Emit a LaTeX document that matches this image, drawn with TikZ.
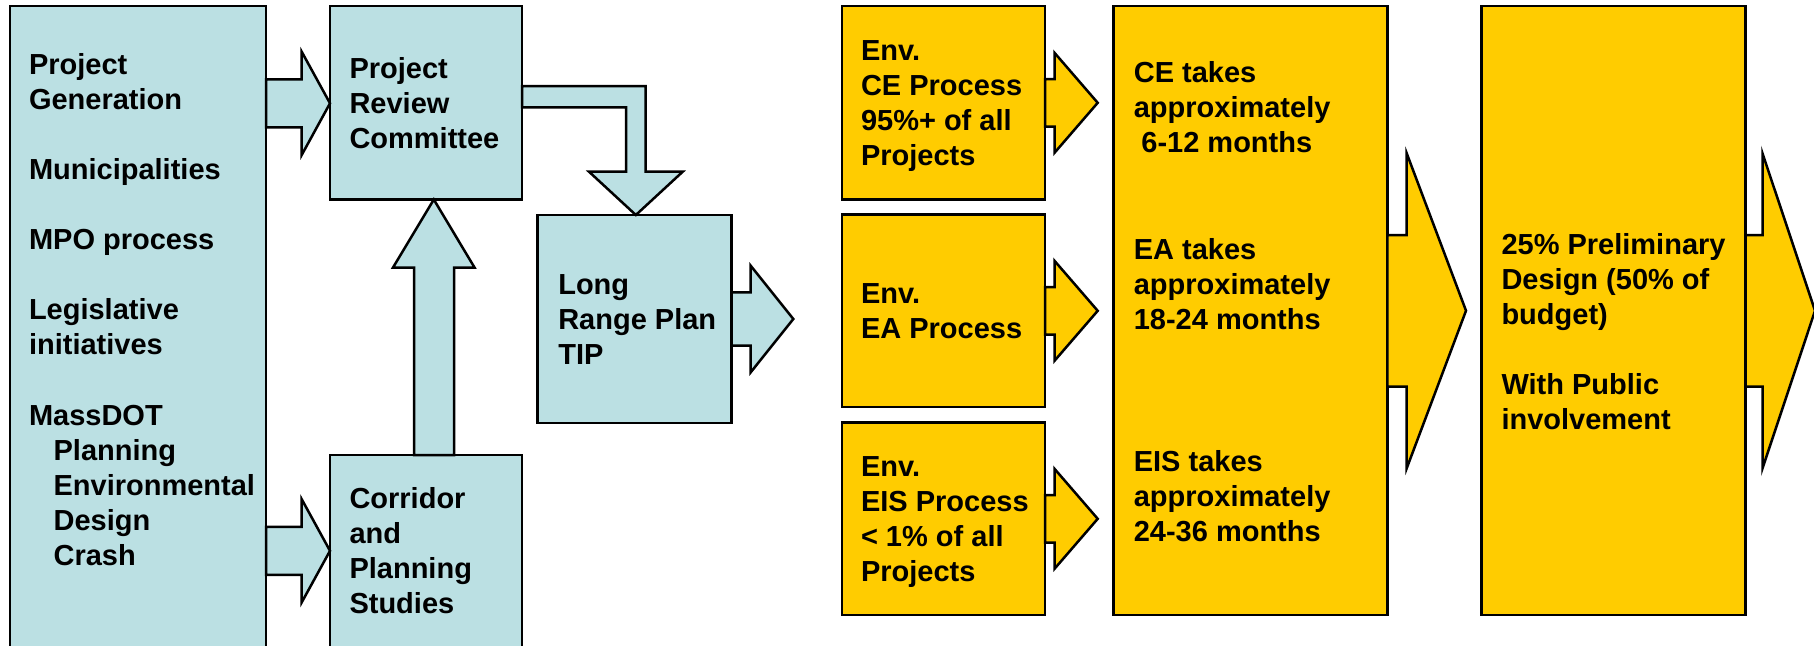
\documentclass[tikz,border=0pt]{standalone}
\usepackage{fontspec}
\setmainfont{Liberation Sans}
\definecolor{lblue}{RGB}{187,224,227}
\definecolor{gold}{RGB}{255,204,0}
\newcommand\bxfont{\fontsize{29}{35.1}\selectfont\bfseries}
\newcommand\bxtext[1]{\parbox[t]{330pt}{\bxfont\raggedright #1}}
\tikzset{
  box/.style={draw=black, line width=2.5pt, rectangle, inner sep=0pt, outer sep=0pt, anchor=north west},
  bluebox/.style={box, fill=lblue},
  goldbox/.style={box, fill=gold},
  txt/.style={anchor=base west, inner sep=0pt, outer sep=0pt},
  bluearrow/.style={draw=black, line width=2.5pt, fill=lblue, line join=miter},
  goldarrow/.style={draw=black, line width=2.5pt, fill=gold, line join=miter},
}
\begin{document}
\begin{tikzpicture}[x=1pt,y=-1pt]
\clip (0,0) rectangle (1814,645);
\fill[white] (0,0) rectangle (1814,645);

% boxes
\node[bluebox, minimum width=256pt, minimum height=670pt] (gen) at (10,6.2) {};
\node[bluebox, minimum width=192pt, minimum height=193.3pt] (prc) at (330,6.2) {};
\node[bluebox, minimum width=192pt, minimum height=220pt] (cor) at (330,455) {};
\node[bluebox, minimum width=194.2pt, minimum height=208pt] (lrp) at (537.5,215) {};
\node[goldbox, minimum width=202.8pt, minimum height=193.3pt] (envce) at (842.2,6.2) {};
\node[goldbox, minimum width=202.8pt, minimum height=192.3pt] (envea) at (842.2,214.7) {};
\node[goldbox, minimum width=202.8pt, minimum height=192.5pt] (enveis) at (842.2,422.5) {};
\node[goldbox, minimum width=273.9pt, minimum height=608.8pt] (mid) at (1113.5,6.2) {};
\node[goldbox, minimum width=264pt, minimum height=608.8pt] (pre) at (1481.5,6.2) {};

% free ends of connectors
\coordinate (lrptip) at (793.3,319);
\coordinate (cetip) at (1097.7,102.8);
\coordinate (eatip) at (1097.7,310.8);
\coordinate (eistip) at (1097.7,518.8);
\coordinate (midtip) at (1466,310.7);
\coordinate (pretip) at (1815,310.7);

% connectors (block arrows)
\draw[bluearrow] (gen.east |- 0,79.3) -- (301.7,79.3) -- (301.7,51.7) -- (prc.west |- 0,103.3)
  -- (301.7,155) -- (301.7,127.3) -- (gen.east |- 0,127.3) -- cycle;
\draw[bluearrow] (gen.east |- 0,526.8) -- (301.7,526.8) -- (301.7,499.2) -- (cor.west |- 0,550.8)
  -- (301.7,602.4) -- (301.7,574.8) -- (gen.east |- 0,574.8) -- cycle;
\draw[bluearrow] (414,0 |- cor.north) -- (414,267.5) -- (393,267.5) -- (433.8,0 |- prc.south)
  -- (474.5,267.5) -- (454,267.5) -- (454,0 |- cor.north) -- cycle;
\draw[bluearrow] (prc.east |- 0,86) -- (645.7,86) -- (645.7,171.7) -- (682.7,171.7)
  -- (635.85,0 |- lrp.north) -- (589,171.7) -- (626,171.7) -- (626,107.3) -- (prc.east |- 0,107.3) -- cycle;
\draw[bluearrow] (lrp.east |- 0,292.3) -- (750.7,292.3) -- (750.7,265.7) -- (lrptip)
  -- (750.7,372.3) -- (750.7,345.7) -- (lrp.east |- 0,345.7) -- cycle;

\draw[goldarrow] (envce.east |- 0,79) -- (1054.5,79) -- (1054.5,52.8) -- (cetip)
  -- (1054.5,152.8) -- (1054.5,126.6) -- (envce.east |- 0,126.6) -- cycle;
\draw[goldarrow] (envea.east |- 0,287) -- (1054.5,287) -- (1054.5,260.8) -- (eatip)
  -- (1054.5,360.8) -- (1054.5,334.6) -- (envea.east |- 0,334.6) -- cycle;
\draw[goldarrow] (enveis.east |- 0,495) -- (1054.5,495) -- (1054.5,468.8) -- (eistip)
  -- (1054.5,568.8) -- (1054.5,542.6) -- (enveis.east |- 0,542.6) -- cycle;
\draw[goldarrow] (mid.east |- 0,235) -- (1406.7,235) -- (1406.7,153.3) -- (midtip)
  -- (1406.7,468.3) -- (1406.7,386.7) -- (mid.east |- 0,386.7) -- cycle;
\draw[goldarrow] (pre.east |- 0,235) -- (1762.5,235) -- (1762.5,153.3) -- (pretip)
  -- (1762.5,468.3) -- (1762.5,386.7) -- (pre.east |- 0,386.7) -- cycle;

% texts
\node[txt] (gentext) at (29,74) {\bxtext{Project\\Generation\\[35.1pt]Municipalities\\[35.1pt]MPO process\\[35.1pt]Legislative\\initiatives\\[35.1pt]MassDOT\\\hspace*{24.6pt}Planning\\\hspace*{24.6pt}Environmental\\\hspace*{24.6pt}Design\\\hspace*{24.6pt}Crash}};
\node[txt] (prctext) at (349.5,78) {\bxtext{Project\\Review\\Committee}};
\node[txt] (cortext) at (349.5,508) {\bxtext{Corridor\\and\\Planning\\Studies}};
\node[txt] (lrptext) at (558.3,294) {\bxtext{Long\\Range Plan\\TIP}};
\node[txt] (envcetext) at (861,60.5) {\bxtext{Env.\\CE Process\\95\%+ of all\\Projects}};
\node[txt] (enveatext) at (861,303.6) {\bxtext{Env.\\EA Process}};
\node[txt] (enveistext) at (861,476) {\bxtext{Env.\\EIS Process\\< 1\% of all\\Projects}};
\node[txt] (cetext) at (1133.8,82.3) {\bxtext{CE takes\\approximately\\\hspace*{7.6pt}6-12 months}};
\node[txt] (eatext) at (1133.8,259) {\bxtext{EA takes\\approximately\\18-24 months}};
\node[txt] (eistext) at (1133.8,471) {\bxtext{EIS takes\\approximately\\24-36 months}};
\node[txt] (pretext) at (1501.5,254) {\bxtext{25\% Preliminary\\Design (50\% of\\budget)\\[35.1pt]With Public\\involvement}};
\end{tikzpicture}
\end{document}
